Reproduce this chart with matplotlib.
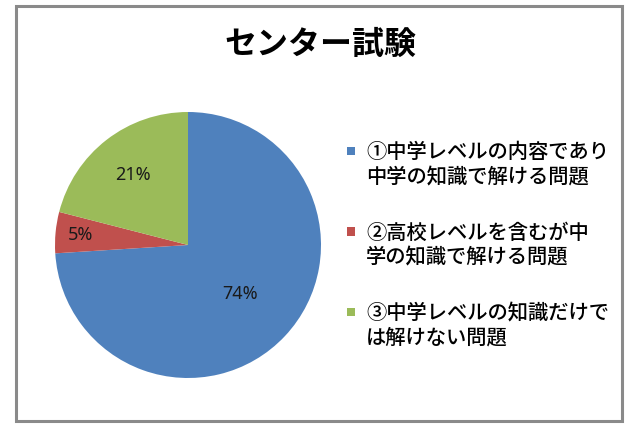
import matplotlib
matplotlib.use("Agg")
import matplotlib.pyplot as plt
from matplotlib.patches import Rectangle
import numpy as np

plt.rcParams['font.family'] = ['Noto Sans CJK JP', 'DejaVu Sans']

title = "センター試験"
categories = ["①中学レベルの内容であり\n中学の知識で解ける問題",
              "②高校レベルを含むが中\n学の知識で解ける問題",
              "③中学レベルの知識だけで\nは解けない問題"]
values = [74, 5, 21]
colors = ["#4F81BD", "#C0504D", "#9BBB59"]
label_dist = [0.54, 0.81, 0.67]

W, H = 640, 426
fig = plt.figure(figsize=(6.4, 4.26), dpi=100)
fig.patch.set_facecolor("white")

# frame
fig.patches.append(Rectangle((16 / W, 1 - 421 / H), (622 - 16) / W, (421 - 6) / H,
                             transform=fig.transFigure, fill=False,
                             edgecolor="#8a8a8a", linewidth=2.2))

cx, cy, r = 188, 245, 133
ax = fig.add_axes([(cx - r) / W, (H - cy - r) / H, 2 * r / W, 2 * r / H])
wedges, _ = ax.pie(values, colors=colors, startangle=90, counterclock=False,
                   radius=1, wedgeprops=dict(linewidth=0))
ax.set_xlim(-1, 1)
ax.set_ylim(-1, 1)
ax.set_aspect("equal")
ax.axis("off")

for w, v, d in zip(wedges, values, label_dist):
    ang = np.deg2rad((w.theta1 + w.theta2) / 2)
    ax.text(d * np.cos(ang), d * np.sin(ang), f"{v}%", ha="center", va="center",
            fontsize=13, color="#1a1a1a", family=["Noto Sans", "DejaVu Sans"])

fig.text(0.5, 1 - 45 / H, title, ha="center", va="center", fontsize=23,
         fontweight="bold", color="black")

# legend (manual, marker aligned with first line)
y0, dy, line_h = 152, 80.5, 25
sq = 8.5
for i, (lab, col) in enumerate(zip(categories, colors)):
    y = y0 + i * dy
    fig.patches.append(Rectangle(((351 - sq / 2) / W, 1 - (y - 1 + sq / 2) / H),
                                 sq / W, sq / H, transform=fig.transFigure,
                                 facecolor=col, edgecolor="none"))
    for j, line in enumerate(lab.split("\n")):
        fig.text(366 / W, 1 - (y + j * line_h) / H, line, ha="left",
                 va="center", fontsize=14.6, fontweight="medium", color="black")

fig.savefig("out.png", dpi=100, facecolor="white")
